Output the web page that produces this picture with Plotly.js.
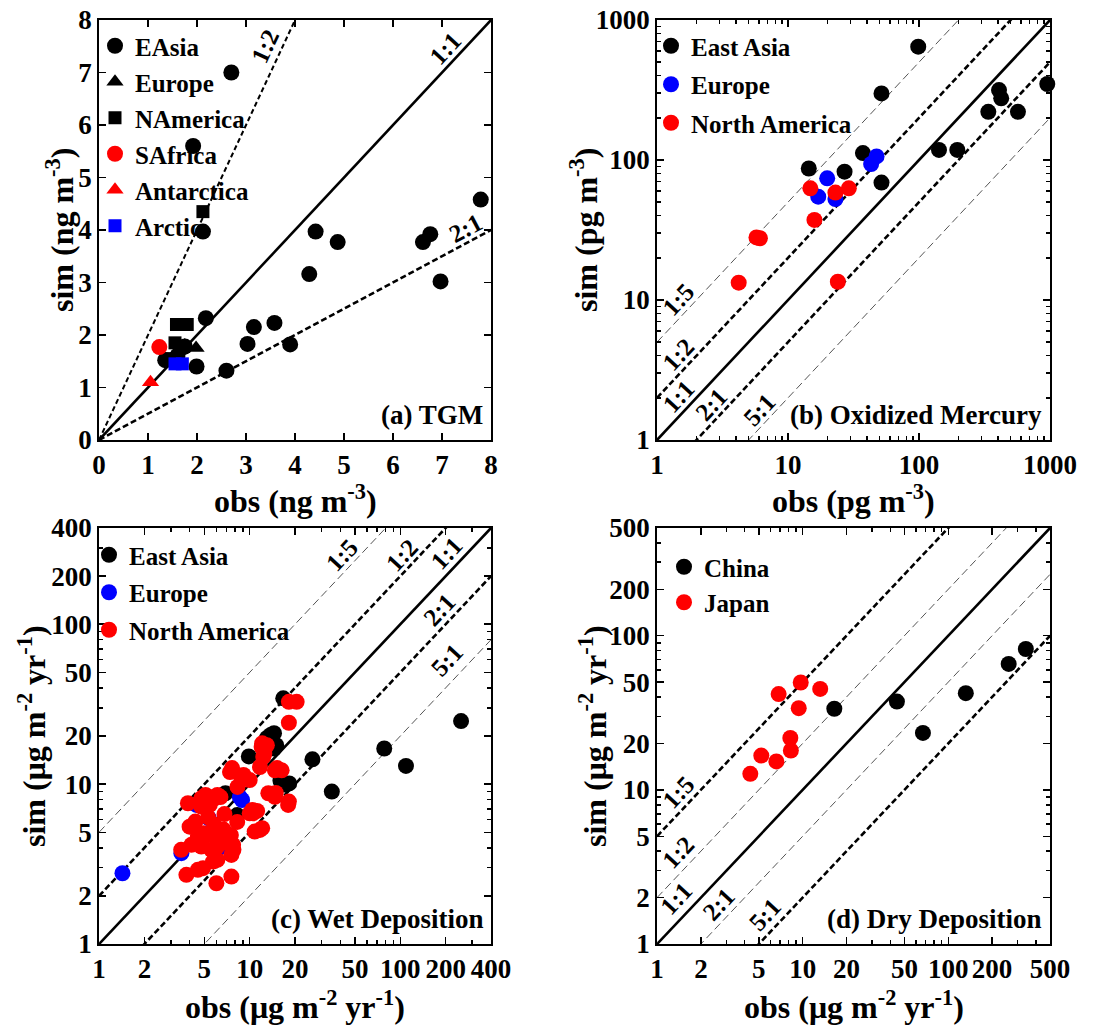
<!DOCTYPE html>
<html><head><meta charset="utf-8">
<script src="https://cdn.plot.ly/plotly-3.0.1.min.js"></script>
<style>html,body{margin:0;padding:0;background:#fff}</style>
</head><body><div id="chart" style="width:1118px;height:1027px"></div>
<script>
// ---------- Panel (a) TGM (ng m-3) ----------
const aEAsiaX = [2.7, 1.92, 2.12, 7.79, 4.42, 4.87, 6.61, 6.76, 4.29, 6.97, 2.18, 3.16, 3.58, 3.03, 3.90, 2.60, 1.99, 1.35, 1.75, 1.6];
const aEAsiaY = [7.0, 5.6, 3.97, 4.58, 3.97, 3.77, 3.77, 3.92, 3.16, 3.02, 2.32, 2.15, 2.23, 1.83, 1.82, 1.32, 1.40, 1.52, 1.78, 1.6];
const aEuropeX = [1.98, 1.75, 1.6];
const aEuropeY = [1.75, 1.8, 1.7];
const aNAmericaX = [2.12, 1.58, 1.8, 1.55, 1.65, 1.4];
const aNAmericaY = [4.35, 2.2, 2.2, 1.85, 1.75, 1.55];
const aSAfricaX = [1.23];
const aSAfricaY = [1.77];
const aAntarcticaX = [1.05];
const aAntarcticaY = [1.1];
const aArcticX = [1.55, 1.7];
const aArcticY = [1.45, 1.45];

// ---------- Panel (b) Oxidized Mercury (pg m-3) ----------
const bEastAsiaX = [98.6, 51.7, 953, 408, 424, 338, 569, 142, 196, 37.3, 14.4, 27, 51.7];
const bEastAsiaY = [645, 299, 349, 316, 276, 221, 221, 118, 118, 112, 87, 82.6, 69];
const bEuropeX = [19.9, 17, 23, 43.1, 47.4];
const bEuropeY = [74, 54.7, 52.6, 93.6, 106];
const bNAmericaX = [14.8, 23, 29.1, 15.9, 5.74, 6.1, 4.2, 24];
const bNAmericaY = [62.8, 58.5, 62.8, 37.3, 28, 27.6, 13.3, 13.5];

// ---------- Panel (c) Wet Deposition (ug m-2 yr-1) ----------
const cEastAsiaX = [253, 78.2, 109, 35.1, 26.1, 16.7, 9.87, 13.8, 13.0, 14.5, 15, 17.4, 18.3, 6.9, 8.26, 16, 14.5];
const cEastAsiaY = [24.8, 16.7, 13.0, 8.98, 14.3, 34.4, 14.9, 20.3, 19.4, 16.7, 17.5, 9.9, 10.1, 8.77, 6.4, 10.5, 20.8];
const cEuropeX = [1.43, 3.52, 4.43, 5.35, 8.9, 6.24, 8.6];
const cEuropeY = [2.77, 3.7, 7.41, 6.12, 7.96, 3.98, 8.3];
const cNAmericaX = [18.2, 20.5, 18.2, 18.2, 12.0, 12.3, 11.7, 12.1, 7.4, 8.8, 10.0, 14.7, 16.3, 13.3, 14.7, 18.0,
  3.89, 4.77, 5.86, 5.43, 4.77, 3.99, 4.53, 4.10, 5.86, 6.49, 6.16, 7.18, 10.0, 10.5, 10.8, 11.7,
  3.51, 4.77, 5.57, 7.76, 7.56, 5.71, 3.80, 4.53, 6.01, 7.56,
  7.64, 9.1, 8.3, 5.1, 6.1, 6.4, 4.36, 4.95, 5.6, 4.8, 6.1, 6.7, 7.5, 8.26, 7.8, 6.1, 4.9,
  15.2, 14.9, 12.1, 10.4, 11.2, 12.5, 13, 5.3, 6.8, 5.8, 7.0];
const cNAmericaY = [32.7, 32.7, 24.2, 7.78, 17.1, 14.8, 12.8, 18, 11.9, 10.9, 10.6, 12.2, 12.2, 8.77, 8.34, 7.41,
  7.59, 8.15, 8.15, 7.41, 7.23, 5.42, 4.70, 4.17, 5.17, 4.93, 4.27, 4.48, 6.57, 6.57, 5.05, 5.17,
  3.88, 4.07, 3.88, 4.17, 3.61, 3.28, 2.71, 2.91, 2.40, 2.64,
  12.6, 11.4, 9.6, 8.56, 8.56, 8.3, 5.83, 4.93, 4.8, 4.26, 4.07, 5.2, 4.8, 5.8, 3.88, 3.36, 2.98,
  12.6, 8.8, 5.3, 6.9, 6.8, 15.5, 17.5, 6.2, 6.5, 5.6, 4.3];

// ---------- Panel (d) Dry Deposition (ug m-2 yr-1) ----------
const dChinaX = [16.5, 44.4, 67, 132, 260, 341];
const dChinaY = [33.6, 37.4, 23.4, 42.4, 65.6, 82];
const dJapanX = [9.7, 6.84, 13.2, 9.4, 8.23, 8.3, 5.2, 6.6, 4.37];
const dJapanY = [49.7, 41.8, 45.2, 33.9, 21.7, 18, 16.7, 15.3, 12.7];

// ---------- ratio lines & ticks ----------
const ratioLabels = ['1:5', '1:2', '1:1', '2:1', '5:1'];
const ratioValues = [5, 2, 1, 0.5, 0.2];
const aTicks = [0, 1, 2, 3, 4, 5, 6, 7, 8];
const bTicks = [1, 10, 100, 1000];
const bTickText = ['1', '10', '100', '1000'];
const cTicks = [1, 2, 5, 10, 20, 50, 100, 200, 400];
const cTickText = ['1', '2', '5', '10', '20', '50', '100', '200', '400'];
const dTicks = [1, 2, 5, 10, 20, 50, 100, 200, 500];
const dTickText = ['1', '2', '5', '10', '20', '50', '100', '200', '500'];

const FONT = 'Liberation Serif, Times New Roman, serif';
const RED = '#ff0000', BLUE = '#0000ff', BLACK = '#000000';

const traces = [];
const thick = {color: BLACK, width: 2.6, dash: '6px,3px'};
const thin = {color: '#555555', width: 1, dash: '8px,4px'};
const solid = {color: BLACK, width: 2.6};

function refLine(r, xa, ya, x0, x1, line) {
  traces.push({x: [x0, x1], y: [r * x0, r * x1], mode: 'lines', line: line,
    xaxis: xa, yaxis: ya, showlegend: false, hoverinfo: 'skip'});
}
function pts(x, y, name, color, symbol, size, xa, ya, leg) {
  traces.push({x: x, y: y, name: name, mode: 'markers', type: 'scatter',
    marker: {color: color, symbol: symbol, size: size, line: {width: 0}},
    xaxis: xa, yaxis: ya, legend: leg, legendgroup: leg + name, cliponaxis: false});
}

// Panel a lines
refLine(2, 'x', 'y', 0, 8, {color: BLACK, width: 2, dash: '5px,3px'});
refLine(1, 'x', 'y', 0, 8, solid);
refLine(0.5, 'x', 'y', 0, 8, thick);
// Panel b,c lines
['2', '3'].forEach((n, k) => {
  const xmax = k === 0 ? 1000 : 400;
  ratioValues.forEach((r) => {
    const st = r === 1 ? solid : (r === 2 || r === 0.5 ? thick : thin);
    refLine(r, 'x' + n, 'y' + n, 1, xmax, st);
  });
});
// Panel d lines (thick 1:5, 5:1 ; thin 1:2, 2:1)
ratioValues.forEach((r) => {
  const st = r === 1 ? solid : (r === 5 || r === 0.2 ? thick : thin);
  refLine(r, 'x4', 'y4', 1, 500, st);
});

pts(aEAsiaX, aEAsiaY, 'EAsia', BLACK, 'circle', 16, 'x', 'y', 'legend');
pts(aEuropeX, aEuropeY, 'Europe', BLACK, 'triangle-up', 15, 'x', 'y', 'legend');
pts(aNAmericaX, aNAmericaY, 'NAmerica', BLACK, 'square', 13, 'x', 'y', 'legend');
pts(aSAfricaX, aSAfricaY, 'SAfrica', RED, 'circle', 16, 'x', 'y', 'legend');
pts(aAntarcticaX, aAntarcticaY, 'Antarctica', RED, 'triangle-up', 15, 'x', 'y', 'legend');
pts(aArcticX, aArcticY, 'Arctic', BLUE, 'square', 13, 'x', 'y', 'legend');

pts(bEastAsiaX, bEastAsiaY, 'East Asia', BLACK, 'circle', 16, 'x2', 'y2', 'legend2');
pts(bEuropeX, bEuropeY, 'Europe', BLUE, 'circle', 16, 'x2', 'y2', 'legend2');
pts(bNAmericaX, bNAmericaY, 'North America', RED, 'circle', 16, 'x2', 'y2', 'legend2');

pts(cEastAsiaX, cEastAsiaY, 'East Asia', BLACK, 'circle', 16, 'x3', 'y3', 'legend3');
pts(cEuropeX, cEuropeY, 'Europe', BLUE, 'circle', 16, 'x3', 'y3', 'legend3');
pts(cNAmericaX, cNAmericaY, 'North America', RED, 'circle', 16, 'x3', 'y3', 'legend3');

pts(dChinaX, dChinaY, 'China', BLACK, 'circle', 16, 'x4', 'y4', 'legend4');
pts(dJapanX, dJapanY, 'Japan', RED, 'circle', 16, 'x4', 'y4', 'legend4');

function minorLog(maxv) {
  const v = [];
  for (let d = 1; d < maxv; d *= 10) for (let k = 2; k <= 9; k++) if (d * k < maxv) v.push(d * k);
  return v;
}
function axis(dom, extra) {
  return Object.assign({
    domain: dom, showline: true, linewidth: 2, linecolor: BLACK, mirror: 'ticks',
    ticks: 'inside', ticklen: 7, tickwidth: 1.5, tickcolor: BLACK, showgrid: false, zeroline: false,
    tickfont: {family: FONT, size: 27, weight: 'bold', color: BLACK},
    fixedrange: true
  }, extra);
}
function minor(maxv) { return {tickvals: minorLog(maxv), ticks: 'inside', ticklen: 4, tickcolor: BLACK}; }

const XA = [0.0886, 0.4392], XB = [0.5877, 0.9392];
const YT = [0.5716, 0.9805], YB = [0.0808, 0.4859];

const layout = {
  width: 1118, height: 1027, margin: {l: 0, r: 0, t: 0, b: 0},
  paper_bgcolor: '#fff', plot_bgcolor: '#fff',
  font: {family: FONT, size: 26, weight: 'bold', color: BLACK},
  xaxis: axis(XA, {anchor: 'y', range: [0, 8], tickvals: aTicks}),
  yaxis: axis(YT, {anchor: 'x', range: [0, 8], tickvals: aTicks}),
  xaxis2: axis(XB, {anchor: 'y2', type: 'log', range: [0, 3], tickvals: bTicks, ticktext: bTickText, minor: minor(1000)}),
  yaxis2: axis(YT, {anchor: 'x2', type: 'log', range: [0, 3], tickvals: bTicks, ticktext: bTickText, minor: minor(1000)}),
  xaxis3: axis(XA, {anchor: 'y3', type: 'log', range: [0, Math.log10(400)], tickvals: cTicks, ticktext: cTickText, minor: minor(400)}),
  yaxis3: axis(YB, {anchor: 'x3', type: 'log', range: [0, Math.log10(400)], tickvals: cTicks, ticktext: cTickText, minor: minor(400)}),
  xaxis4: axis(XB, {anchor: 'y4', type: 'log', range: [0, Math.log10(500)], tickvals: dTicks, ticktext: dTickText, minor: minor(500)}),
  yaxis4: axis(YB, {anchor: 'x4', type: 'log', range: [0, Math.log10(500)], tickvals: dTicks, ticktext: dTickText, minor: minor(500)}),
  showlegend: true,
  annotations: []
};
function leg(xpx, ypx, gap) {
  return {x: xpx / 1118, y: 1 - ypx / 1027, xanchor: 'left', yanchor: 'top', bgcolor: 'rgba(0,0,0,0)',
    borderwidth: 0, font: {family: FONT, size: 25, weight: 'bold', color: BLACK},
    traceorder: 'grouped', tracegroupgap: gap, itemsizing: 'trace'};
}
layout.legend = leg(95, 23, 0.5);
layout.legend2 = leg(651, 23, 3);
layout.legend3 = leg(89, 532, 2);
layout.legend4 = leg(664, 544, 0);

function note(text, xa, ya, x, y, angle, size) {
  layout.annotations.push({text: text, xref: xa, yref: ya, x: x, y: y, textangle: angle, showarrow: false,
    font: {family: FONT, size: size, weight: 'bold', color: BLACK}, xanchor: 'center', yanchor: 'middle'});
}
// Axis titles
const unitsA = 'ng m<sup>-3</sup>', unitsB = 'pg m<sup>-3</sup>', unitsC = 'μg m<sup>-2</sup> yr<sup>-1</sup>';
const TS = 32;
function xTitle(t, xa, ypx) {
  layout.annotations.push({text: t, xref: xa + ' domain', yref: 'paper', x: 0.5, y: 1 - ypx / 1027,
    xanchor: 'center', yanchor: 'middle', showarrow: false, font: {family: FONT, size: TS, weight: 'bold', color: BLACK}});
}
function yTitle(t, ya, xpx) {
  layout.annotations.push({text: t, xref: 'paper', yref: ya + ' domain', x: xpx / 1118, y: 0.5, textangle: -90,
    xanchor: 'center', yanchor: 'middle', showarrow: false, font: {family: FONT, size: TS, weight: 'bold', color: BLACK}});
}
xTitle('obs (' + unitsA + ')', 'x', 499);
xTitle('obs (' + unitsB + ')', 'x2', 499);
xTitle('obs (' + unitsC + ')', 'x3', 1005);
xTitle('obs (' + unitsC + ')', 'x4', 1005);
yTitle('sim (' + unitsA + ')', 'y', 60);
yTitle('sim (' + unitsB + ')', 'y2', 584);
yTitle('sim (' + unitsC + ')', 'y3', 32);
yTitle('sim (' + unitsC + ')', 'y4', 593);

// Panel labels
[['(a) TGM', 'x', 'y'], ['(b) Oxidized Mercury', 'x2', 'y2'], ['(c) Wet Deposition', 'x3', 'y3'], ['(d) Dry Deposition', 'x4', 'y4']]
  .forEach(p => layout.annotations.push({text: p[0], xref: p[1] + ' domain', yref: p[2] + ' domain', x: 0.985, y: 0.02,
    xanchor: 'right', yanchor: 'bottom', showarrow: false, font: {family: FONT, size: 27, weight: 'bold', color: BLACK}}));
// Ratio labels
const L = Math.log10;
note(ratioLabels[1], 'x', 'y', 3.39, 7.49, -65, 25);
note(ratioLabels[2], 'x', 'y', 7.07, 7.45, -47, 25);
note(ratioLabels[3], 'x', 'y', 7.47, 4.03, -28, 25);
const bPos = [[1.46, 10], [1.46, 4.05], [1.46, 2.04], [2.6, 1.78], [6.1, 1.64]];
const cPos = [[40.6, 271], [101.7, 271], [202, 277], [183, 123], [202, 59.7]];
const dPos = [[1.4, 9.6], [1.4, 3.9], [1.36, 1.96], [2.64, 1.81], [5.5, 1.56]];
ratioLabels.forEach((t, i) => {
  note(t, 'x2', 'y2', L(bPos[i][0]), L(bPos[i][1]), -47, 25);
  note(t, 'x3', 'y3', L(cPos[i][0]), L(cPos[i][1]), -47, 25);
  note(t, 'x4', 'y4', L(dPos[i][0]), L(dPos[i][1]), -47, 25);
});

Plotly.newPlot('chart', traces, layout, {displayModeBar: false, staticPlot: true});
</script></body></html>
